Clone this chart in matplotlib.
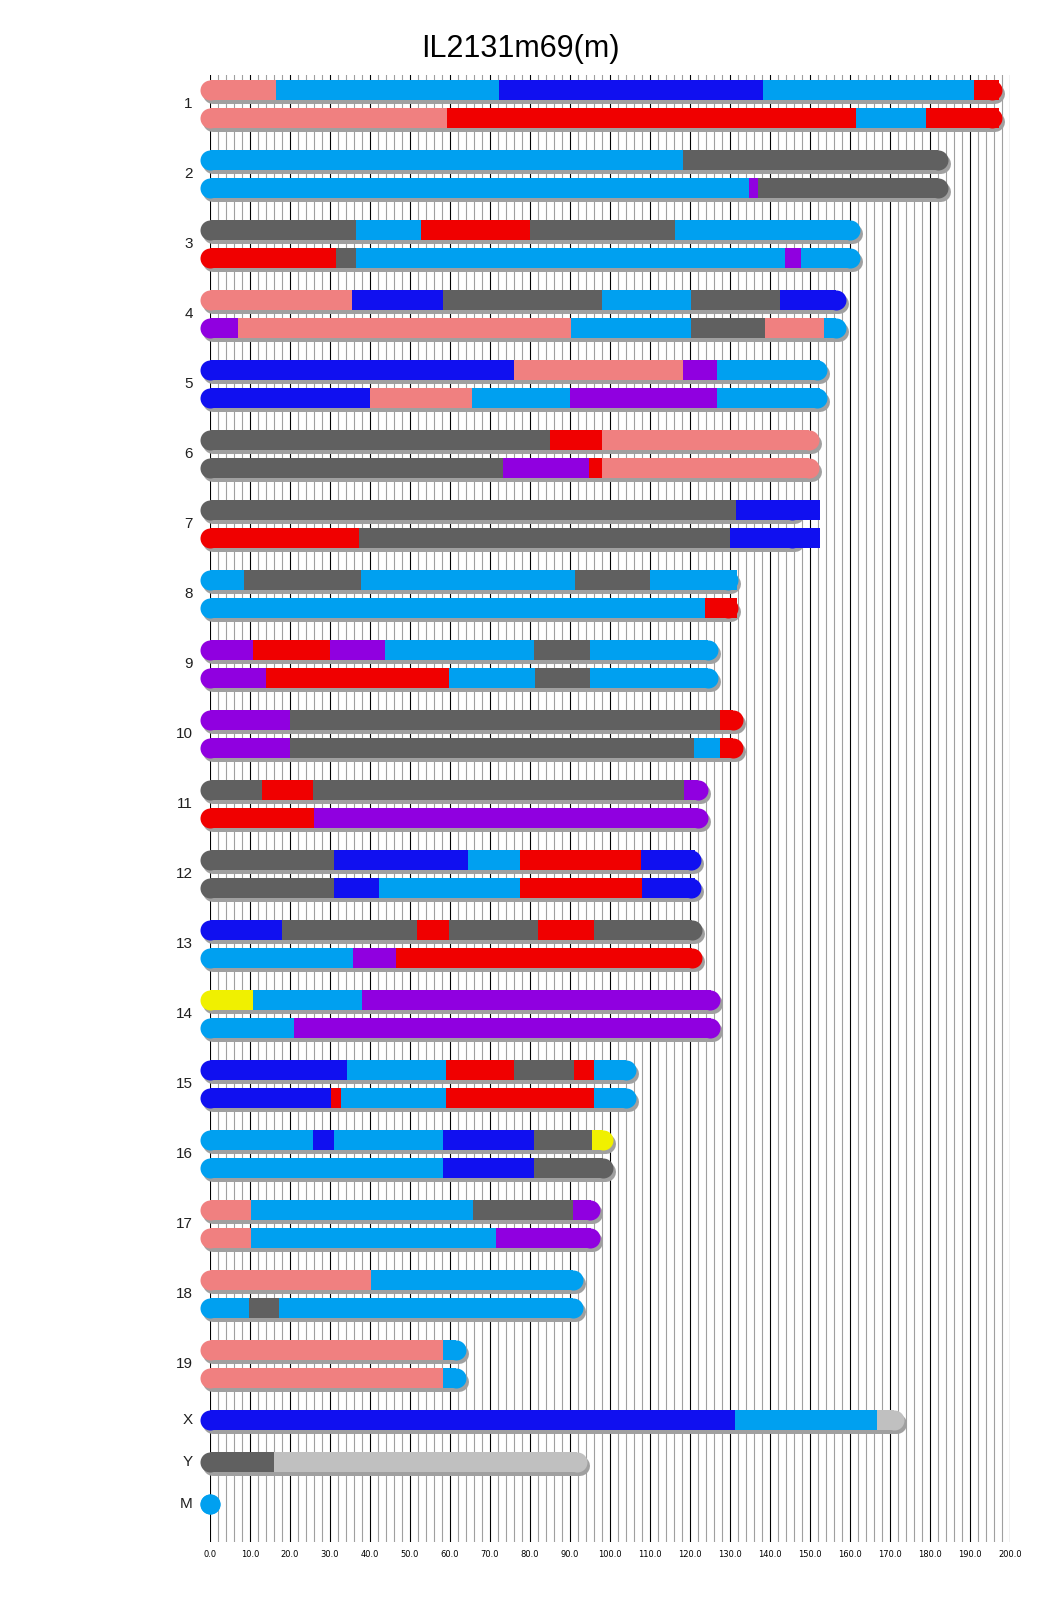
import matplotlib
matplotlib.use("Agg")
import matplotlib.pyplot as plt
import matplotlib.transforms as mtransforms
import numpy as np

plt.rcParams['font.family'] = ['Liberation Sans', 'DejaVu Sans']

TITLE = "IL2131m69(m)"

# founder haplotype colours (CC letters), U = unknown / no data
HAP_COLORS = {
    'A': '#F0F000', 'B': '#606060', 'C': '#F08080', 'D': '#1010F0',
    'E': '#00A0F0', 'G': '#F00000', 'H': '#9000E0', 'U': '#C0C0C0',
}

CHROMS = [str(i) for i in range(1, 20)] + ['X', 'Y', 'M']
CHROM_LEN = [195.47, 182.11, 160.04, 156.51, 151.83, 149.74, 145.44, 129.40,
             124.60, 130.69, 122.08, 120.13, 120.42, 124.90, 104.04, 98.21,
             94.99, 90.70, 61.43, 171.03, 91.74, 0.02]

# one entry per drawn row: chromosome, haplotype string, segment end points (Mb)
ROW_CHROM = ['1', '1', '2', '2', '3', '3', '4', '4', '5', '5', '6', '6',
             '7', '7', '8', '8', '9', '9', '10', '10', '11', '11', '12', '12',
             '13', '13', '14', '14', '15', '15', '16', '16', '17', '17',
             '18', '18', '19', '19', 'X', 'Y', 'M']
ROW_HAPS = ['CEDEG', 'CGEG', 'EB', 'EHB', 'BEGBE', 'GBEHE', 'CDBEBD', 'HCEBCE',
            'DCHE', 'DCEHE', 'BGC', 'BHGC', 'BD', 'GBD', 'EBEBE', 'EG',
            'HGHEBE', 'HGEBE', 'HBG', 'HBEG', 'BGBH', 'GH', 'BDEGD', 'BDEGD',
            'DBGBGB', 'EHG', 'AEH', 'EH', 'DEGBGE', 'DGEGE', 'EDEDBA', 'EDB',
            'CEBH', 'CEH', 'CE', 'EBE', 'CE', 'CE', 'DEU', 'BU', 'E']
ROW_ENDS = [
    [16.5, 72.2, 138.2, 191.0, 197.2],
    [59.2, 161.5, 179.0, 197.2],
    [118.3, 182.11],
    [134.8, 137.0, 182.11],
    [36.5, 52.7, 80.0, 116.3, 160.04],
    [31.5, 36.5, 143.7, 147.7, 160.04],
    [35.5, 58.2, 98.0, 120.2, 142.5, 156.51],
    [7.0, 90.2, 120.2, 138.7, 153.5, 156.51],
    [76.0, 118.2, 126.7, 152.54],
    [40.0, 65.5, 90.0, 126.7, 152.54],
    [85.0, 98.0, 149.74],
    [73.2, 94.8, 98.0, 149.74],
    [131.5, 152.52],
    [37.2, 130.0, 152.52],
    [8.5, 37.7, 91.2, 110.0, 131.74],
    [123.7, 131.74],
    [10.8, 29.9, 43.8, 80.9, 95.1, 124.60],
    [13.9, 59.8, 81.2, 95.1, 124.60],
    [20.1, 127.6, 130.69],
    [20.1, 120.9, 127.6, 130.69],
    [12.9, 25.8, 118.6, 122.08],
    [26.0, 122.08],
    [30.9, 64.4, 77.6, 107.7, 121.26],
    [30.9, 42.3, 77.6, 108.0, 121.26],
    [18.0, 51.8, 59.8, 82.0, 95.9, 120.42],
    [35.8, 46.4, 120.42],
    [10.8, 38.1, 125.19],
    [20.9, 125.19],
    [34.3, 59.0, 76.0, 91.0, 96.1, 104.04],
    [30.2, 32.7, 59.0, 96.1, 104.04],
    [25.8, 30.9, 58.2, 80.9, 95.6, 98.32],
    [58.2, 80.9, 98.32],
    [10.3, 65.7, 90.7, 95.27],
    [10.3, 71.5, 95.27],
    [40.2, 90.77],
    [9.8, 17.3, 90.77],
    [58.2, 61.43],
    [58.2, 61.43],
    [131.2, 166.65, 171.03],
    [15.9, 91.74],
    [0.02],
]

X_MAX = 200
W, H = 1040, 1616
BAR_PX = 20                      # bar thickness in pixels
LW = BAR_PX * 72 / 100           # same in points

fig = plt.figure(figsize=(W / 100, H / 100), dpi=100)
top_px, bot_px = 75, 1542
ax = fig.add_axes([210 / W, 1 - bot_px / H, 800 / W, (bot_px - top_px) / H])
ax.set_xlim(0, X_MAX)
ax.set_ylim(bot_px, top_px)      # y measured in pixels from the top

# row positions: two homologs per autosome, single rows for X, Y, M
row_y = []
y = 90
for i, c in enumerate(ROW_CHROM):
    if i > 0:
        if c == ROW_CHROM[i - 1]:
            y += 28
        else:
            y += 42
    row_y.append(y)

shadow_tr = mtransforms.offset_copy(ax.transData, fig=fig, x=3, y=-4, units='dots')

for c, haps, ends, yy in zip(ROW_CHROM, ROW_HAPS, ROW_ENDS, row_y):
    L = CHROM_LEN[CHROMS.index(c)]
    ax.plot([0, L], [yy, yy], color='#A0A0A0', lw=LW, solid_capstyle='round',
            transform=shadow_tr, zorder=2, clip_on=False)
    # rounded ends (full discs, covered by the segments on the inner side)
    ax.plot([0], [yy], marker='o', ms=LW, mew=0,
            color=HAP_COLORS[haps[0]], zorder=3, clip_on=False)
    ax.plot([L], [yy], marker='o', ms=LW, mew=0,
            color=HAP_COLORS[haps[-1]], zorder=3, clip_on=False)
    start = 0
    for h, e in zip(haps, ends):
        ax.plot([start, e], [yy, yy], color=HAP_COLORS[h], lw=LW,
                solid_capstyle='butt', zorder=4, clip_on=False)
        start = e

# chromosome labels
for c in CHROMS:
    ys = [yy for cc, yy in zip(ROW_CHROM, row_y) if cc == c]
    ax.text(-4.3, np.mean(ys), c, ha='right', va='center', fontsize=11,
            color='#202020')

ax.set_xticks(np.arange(0, X_MAX + 1, 10))
ax.set_xticks(np.arange(0, X_MAX + 1, 2), minor=True)
ax.set_xticklabels([f"{v:.1f}" for v in np.arange(0, X_MAX + 1, 10)],
                   fontsize=6, family='DejaVu Sans')
ax.tick_params(axis='x', which='both', length=0, pad=6)
ax.set_yticks([])
ax.grid(axis='x', which='major', color='black', lw=0.8)
ax.grid(axis='x', which='minor', color='#A0A0A0', lw=0.8)
ax.set_axisbelow(True)
for s in ax.spines.values():
    s.set_visible(False)

fig.text(0.5, 1 - 49 / H, TITLE, ha='center', va='center', fontsize=22)

fig.savefig("out.png", dpi=100)
